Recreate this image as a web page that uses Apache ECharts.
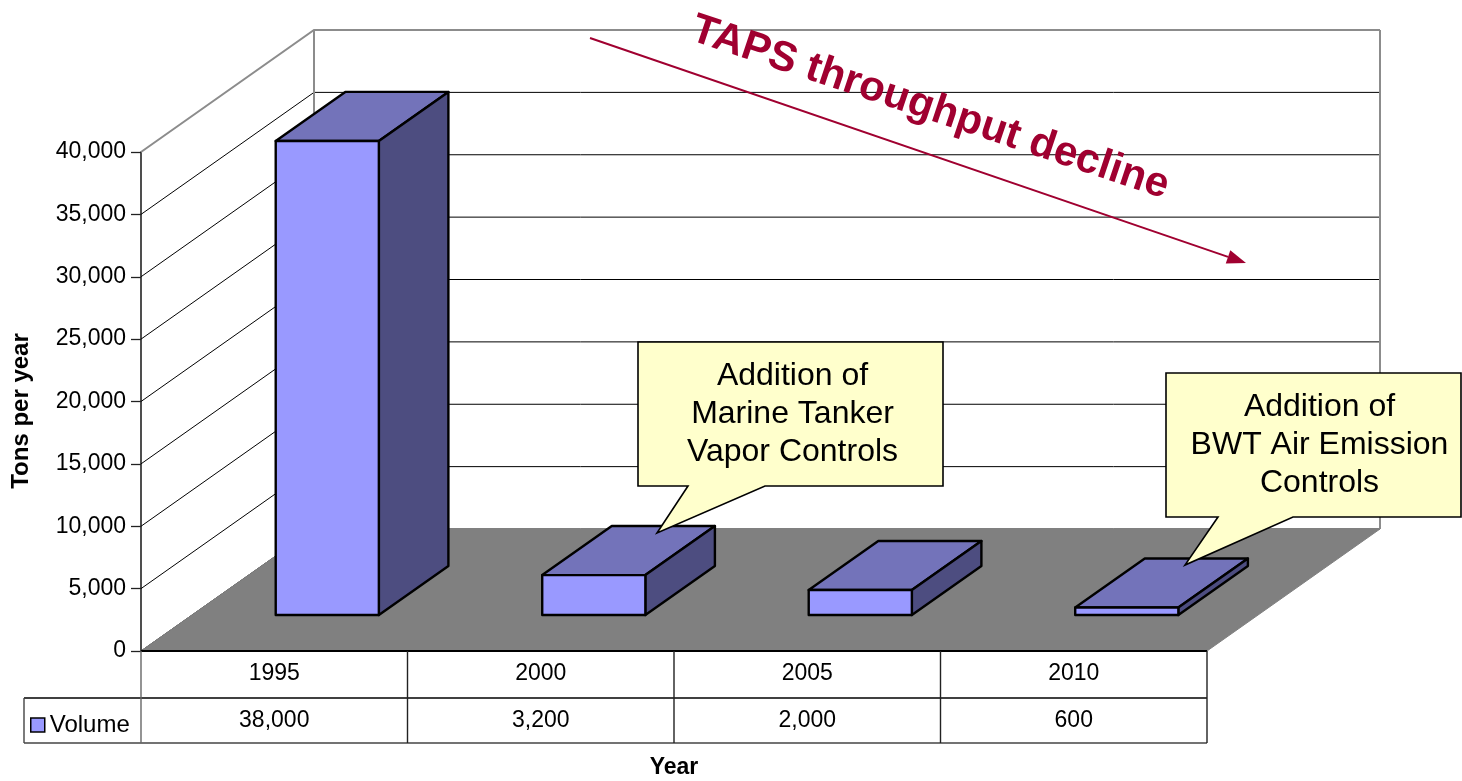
<!DOCTYPE html>
<html><head><meta charset="utf-8">
<script src="https://cdn.jsdelivr.net/npm/echarts@6/dist/echarts.min.js"></script>
<style>html,body{margin:0;padding:0;background:#fff}#c{width:1462px;height:781px}</style>
</head><body><div id="c"></div>
<script>
// ---- data ----
const categories = ['1995', '2000', '2005', '2010'];
const volume = [38000, 3200, 2000, 600];
const seriesName = 'Volume';
const yTicks = [0, 5000, 10000, 15000, 20000, 25000, 30000, 35000, 40000];
const axisTitleY = 'Tons per year';
const axisTitleX = 'Year';
const callout1 = ['Addition of', 'Marine Tanker', 'Vapor Controls'];
const callout2 = ['Addition of', 'BWT Air Emission', 'Controls'];
const trendNote = 'TAPS throughput decline';

// ---- style ----
const FONT = '"Liberation Sans", Arial, Helvetica, sans-serif';
const DEPTH = [173, -122];
const BAR_FRONT = 0.295, BAR_BACK = 0.697, BAR_W = 0.387;
const C_FRONT = '#9999FF', C_TOP = '#7373BA', C_SIDE = '#4D4D80';
const C_RED = '#A00030';
const ROW1 = 47, ROW2 = 45, TABLE_LEFT = 24;
const LABEL_SIZE = 23;
const fmt = v => Number(v).toLocaleString('en-US');

function ln(x1, y1, x2, y2, stroke, w) {
  return { type: 'line', shape: { x1, y1, x2, y2 }, style: { stroke, lineWidth: w || 1 } };
}

function renderDecor(params, api) {
  const cs = params.coordSys;
  const x0 = cs.x, x1 = cs.x + cs.width, yb = cs.y + cs.height;
  const dx = DEPTH[0], dy = DEPTH[1];
  const ch = [];
  const yMax = yTicks[yTicks.length - 1];
  yTicks.forEach(v => {
    const y = api.coord([0, v])[1];
    const top = v === yMax;
    ch.push({ type: 'polyline', shape: { points: [[x0, y], [x0 + dx, y + dy], [x1 + dx, y + dy]] },
      style: { stroke: top ? '#8c8c8c' : '#000', lineWidth: top ? 2 : 1, fill: null } });
  });
  const yt = api.coord([0, yMax])[1];
  ch.push(ln(x0 + dx, yt + dy, x0 + dx, yb + dy, '#8c8c8c', 2));
  ch.push(ln(x1 + dx, yt + dy, x1 + dx, yb + dy, '#8c8c8c', 2));
  ch.push({ type: 'polygon', shape: { points: [[x0, yb], [x1, yb], [x1 + dx, yb + dy], [x0 + dx, yb + dy]] },
    style: { fill: '#808080', stroke: '#808080', lineWidth: 1 } });
  // data table grid
  const band = cs.width / categories.length;
  ch.push(ln(x0, yb, x1, yb, '#000', 1.8));
  ch.push(ln(TABLE_LEFT, yb + ROW1, x1, yb + ROW1, '#000', 1.4));
  ch.push(ln(TABLE_LEFT, yb + ROW1 + ROW2, x1, yb + ROW1 + ROW2, '#444', 1.6));
  ch.push(ln(TABLE_LEFT, yb + ROW1, TABLE_LEFT, yb + ROW1 + ROW2, '#444', 1.4));
  for (let i = 0; i <= categories.length; i++) {
    const x = x0 + i * band;
    ch.push(ln(x, yb, x, yb + ROW1 + ROW2, i === 0 ? '#666' : '#222', 1.4));
  }
  return { type: 'group', children: ch };
}

function renderBar(params, api) {
  const i = api.value(0), v = api.value(1);
  const base = api.coord([i, 0]), top = api.coord([i, v]);
  const band = api.size([1, 0])[0];
  const w = band * BAR_W;
  const fx = DEPTH[0] * BAR_FRONT, fy = DEPTH[1] * BAR_FRONT;
  const bx = DEPTH[0] * BAR_BACK, by = DEPTH[1] * BAR_BACK;
  const xl = base[0] - w / 2 + 2, xr = base[0] + w / 2 + 2, y0 = base[1], y1 = top[1];
  const st = { stroke: '#000', lineWidth: 2.4, lineJoin: 'round' };
  return { type: 'group', children: [
    { type: 'polygon', shape: { points: [[xl + fx, y1 + fy], [xr + fx, y1 + fy], [xr + bx, y1 + by], [xl + bx, y1 + by]] }, style: Object.assign({}, st, { fill: C_TOP }) },
    { type: 'polygon', shape: { points: [[xr + fx, y1 + fy], [xr + bx, y1 + by], [xr + bx, y0 + by], [xr + fx, y0 + fy]] }, style: Object.assign({}, st, { fill: C_SIDE }) },
    { type: 'rect', shape: { x: xl + fx, y: y1 + fy, width: w, height: y0 - y1 }, style: Object.assign({}, st, { fill: C_FRONT }) }
  ] };
}

function callout(box, tail, lines, shift) {
  const [l, t, r, b] = box;
  const pts = [[l, t], [r, t], [r, b], [tail[1], b], [tail[2], tail[3]], [tail[0], b], [l, b]];
  return [
    { type: 'polygon', z: 100, shape: { points: pts }, style: { fill: '#FFFFCC', stroke: '#000', lineWidth: 1.6 } },
    { type: 'text', z: 101, x: (l + r) / 2 + (shift || 0), y: (t + b) / 2,
      style: { text: lines.join('\n'), font: '32px ' + FONT, fill: '#000', align: 'center', verticalAlign: 'middle', lineHeight: 38 } }
  ];
}

// arrow geometry
const A0 = [590, 38], A1 = [1246, 263];
const ad = [A1[0] - A0[0], A1[1] - A0[1]];
const al = Math.hypot(ad[0], ad[1]);
const au = [ad[0] / al, ad[1] / al];
const AH = 19, AW = 7;
const abase = [A1[0] - AH * au[0], A1[1] - AH * au[1]];

const chart = echarts.init(document.getElementById('c'), null, { renderer: 'canvas' });
chart.setOption({
  backgroundColor: '#ffffff',
  animation: false,
  textStyle: { fontFamily: FONT },
  grid: { left: 141, top: 152, width: 1066, height: 499, containLabel: false },
  legend: {
    data: [seriesName], left: 25, top: 708, icon: 'rect', itemWidth: 14, itemHeight: 14, itemGap: 6,
    itemStyle: { borderColor: '#000', borderWidth: 1.5 },
    textStyle: { fontSize: LABEL_SIZE + 1, color: '#000', fontFamily: FONT }
  },
  xAxis: [
    { type: 'category', data: categories, position: 'bottom',
      axisLine: { show: false }, axisTick: { show: false }, splitLine: { show: false },
      axisLabel: { fontSize: LABEL_SIZE, color: '#000', margin: 11, fontFamily: FONT } },
    { type: 'category', data: volume.map(fmt), position: 'bottom', offset: ROW1,
      axisLine: { show: false }, axisTick: { show: false }, splitLine: { show: false },
      axisLabel: { fontSize: LABEL_SIZE, color: '#000', margin: 11, fontFamily: FONT } }
  ],
  yAxis: {
    type: 'value', min: yTicks[0], max: yTicks[yTicks.length - 1], interval: yTicks[1] - yTicks[0],
    axisLine: { show: true, lineStyle: { color: '#222', width: 1.6 } },
    axisTick: { show: true, length: 10, lineStyle: { color: '#222', width: 1.3 } },
    splitLine: { show: false },
    axisLabel: { formatter: fmt, fontSize: LABEL_SIZE, color: '#000', margin: 15, fontFamily: FONT }
  },
  series: [
    { type: 'custom', name: 'decor', z: 1, silent: true, renderItem: renderDecor, data: [[0, 0]], encode: { x: 0, y: 1 } },
    { type: 'custom', name: seriesName, z: 5, renderItem: renderBar, itemStyle: { color: C_FRONT },
      data: categories.map((c, i) => [i, volume[i]]), encode: { x: 0, y: 1 } }
  ],
  graphic: [
    { type: 'text', x: 21, y: 411, rotation: Math.PI / 2,
      style: { text: axisTitleY, font: 'bold 24px ' + FONT, fill: '#000', align: 'center', verticalAlign: 'middle' } },
    { type: 'text', x: 674, y: 768,
      style: { text: axisTitleX, font: 'bold 23px ' + FONT, fill: '#000', align: 'center', verticalAlign: 'middle' } },
    { type: 'line', z: 90, shape: { x1: A0[0], y1: A0[1], x2: abase[0], y2: abase[1] }, style: { stroke: C_RED, lineWidth: 2 } },
    { type: 'polygon', z: 90, shape: { points: [A1, [abase[0] - AW * au[1], abase[1] + AW * au[0]], [abase[0] + AW * au[1], abase[1] - AW * au[0]]] }, style: { fill: C_RED } },
    { type: 'text', z: 95, x: 930, y: 108, rotation: -18.5 * Math.PI / 180,
      style: { text: trendNote, font: 'bold 42px ' + FONT, fill: C_RED, align: 'center', verticalAlign: 'middle' } }
  ].concat(
    callout([638, 342, 943, 486], [688, 765, 657, 533], callout1, 2),
    callout([1166, 373, 1461, 517], [1218, 1293, 1185, 565], callout2, 6)
  )
});
</script>
</body></html>
